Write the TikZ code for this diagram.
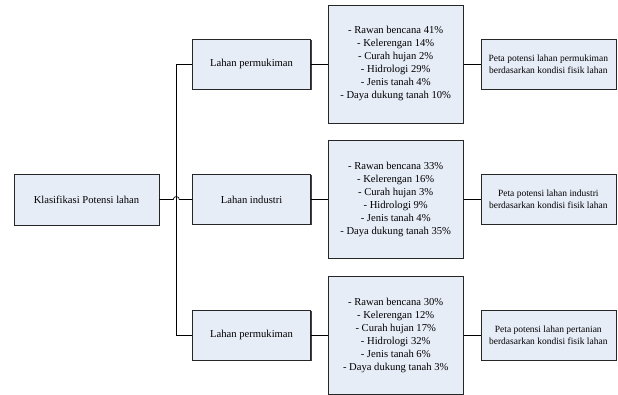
\documentclass[tikz,border=0pt]{standalone}
\usepackage{fontspec}
\setmainfont{Liberation Serif}
\usetikzlibrary{positioning,shadows}
\definecolor{boxfill}{RGB}{231,237,247}

\tikzset{
  box/.style={draw=black!85, line width=0.6pt, fill=boxfill, align=center,
    inner sep=0pt, font=\fontsize{10.6}{13}\selectfont,
    drop shadow={shadow xshift=0.9pt, shadow yshift=-0.9pt, fill=black!75, opacity=1}},
  mid/.style={box, minimum width=118pt, minimum height=50pt},
  kriteria/.style={box, minimum width=135pt, minimum height=118pt},
  hasil/.style={box, minimum width=135pt, minimum height=50pt,
    font=\fontsize{9.5}{12}\selectfont},
  link/.style={draw=black, line width=0.7pt}
}

\begin{document}
\begin{tikzpicture}[x=1pt, y=1pt]
	\useasboundingbox (0,0) rectangle (618,-394);
	\node (klas) [box, minimum width=145pt, minimum height=51pt] at (86.5,-199.5) {Klasifikasi Potensi lahan};
	\node (ind) [mid, right=33pt of klas] {Lahan industri};
	\node (perm1) [mid, above=85pt of ind] {Lahan permukiman};
	\node (perm3) [mid, below=85pt of ind] {Lahan permukiman};

	\node (krit1) [kriteria, right=17pt of perm1] {- Rawan bencana 41\%\\ - Kelerengan 14\%\\ - Curah hujan 2\%\\ - Hidrologi 29\%\\ - Jenis tanah 4\%\\ - Daya dukung tanah 10\%};
	\node (krit2) [kriteria, right=17pt of ind] {- Rawan bencana 33\%\\ - Kelerengan 16\%\\ - Curah hujan 3\%\\ - Hidrologi 9\%\\ - Jenis tanah 4\%\\ - Daya dukung tanah 35\%};
	\node (krit3) [kriteria, right=17pt of perm3] {- Rawan bencana 30\%\\ - Kelerengan 12\%\\ - Curah hujan 17\%\\ - Hidrologi 32\%\\ - Jenis tanah 6\%\\ - Daya dukung tanah 3\%};

	\node (peta1) [hasil, right=17pt of krit1] {Peta potensi lahan permukiman\\ berdasarkan kondisi fisik lahan};
	\node (peta2) [hasil, right=17pt of krit2] {Peta potensi lahan industri\\ berdasarkan kondisi fisik lahan};
	\node (peta3) [hasil, right=17pt of krit3] {Peta potensi lahan pertanian\\ berdasarkan kondisi fisik lahan};

  \path[link] (perm1.west) -- ++(-16pt,0) |- (perm3.west);
  \path[link] (klas.east) -- ([xshift=-19pt]ind.west)
    arc[start angle=180, end angle=0, radius=3pt] -- (ind.west);
  \path[link] (perm1) -- (krit1);
  \path[link] (ind) -- (krit2);
  \path[link] (perm3) -- (krit3);
  \path[link] (krit1) -- (peta1);
  \path[link] (krit2) -- (peta2);
  \path[link] (krit3) -- (peta3);

  \end{tikzpicture}
\end{document}
